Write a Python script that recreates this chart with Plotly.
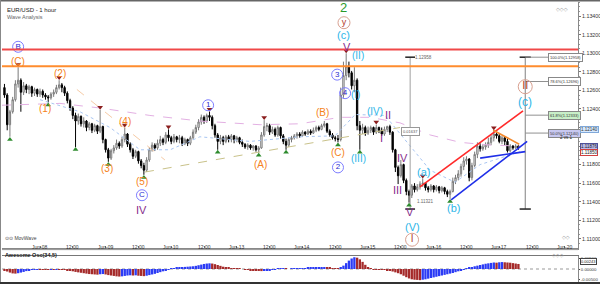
import plotly.graph_objects as go

# ---------------- data ----------------
hours = list(range(-13, 176))          # hourly bars, 0 = Jun-08 00:00
open0 = 1.1263
close = [1.1255, 1.1223, 1.1237, 1.1250, 1.1267, 1.1271, 1.1258, 1.1265, 1.1261, 1.1264, 1.1257, 1.1261, 1.1256,
         1.1259, 1.1255, 1.1253, 1.1252, 1.1256, 1.1258, 1.1263, 1.1266, 1.1263, 1.1257,
         1.1249, 1.1241, 1.1233, 1.1227, 1.1232, 1.1224, 1.1227, 1.1220, 1.1224, 1.1217,
         1.1222, 1.1216, 1.1221, 1.1207, 1.1196, 1.1187, 1.1195, 1.1198, 1.1203, 1.1200,
         1.1207, 1.1213, 1.1202, 1.1196, 1.1189, 1.1194, 1.1184, 1.1179, 1.1174, 1.1185,
         1.1196, 1.1201, 1.1198, 1.1203, 1.1207, 1.1204, 1.1212, 1.1209, 1.1205, 1.1210,
         1.1207, 1.1209, 1.1203, 1.1207, 1.1203, 1.1209, 1.1215, 1.1220, 1.1226, 1.1231,
         1.1227, 1.1233, 1.1231, 1.1222, 1.1212, 1.1205, 1.1209, 1.1205, 1.1210, 1.1207,
         1.1211, 1.1207, 1.1209, 1.1204, 1.1202, 1.1199, 1.1201, 1.1198, 1.1200, 1.1196,
         1.1198, 1.1212, 1.1221, 1.1222, 1.1215, 1.1218, 1.1212, 1.1220, 1.1211, 1.1205,
         1.1201, 1.1207, 1.1209, 1.1211, 1.1213, 1.1211, 1.1215, 1.1213, 1.1216, 1.1214,
         1.1217, 1.1220, 1.1218, 1.1222, 1.1224, 1.1216, 1.1212, 1.1209, 1.1208, 1.1207,
         1.1255, 1.1276, 1.1286, 1.1279, 1.1265, 1.1271, 1.1222, 1.1217, 1.1220, 1.1214,
         1.1217, 1.1220, 1.1215, 1.1220, 1.1217, 1.1213, 1.1218, 1.1221, 1.1215, 1.1196,
         1.1177, 1.1168, 1.1180, 1.1163, 1.1151, 1.1147, 1.1157, 1.1153, 1.1156, 1.1159,
         1.1160, 1.1155, 1.1153, 1.1157, 1.1153, 1.1156, 1.1152, 1.1155, 1.1151, 1.1148,
         1.1151, 1.1162, 1.1166, 1.1170, 1.1178, 1.1184, 1.1186, 1.1166, 1.1179, 1.1191,
         1.1200, 1.1197, 1.1199, 1.1201, 1.1204, 1.1209, 1.1213, 1.1211, 1.1205, 1.1209,
         1.1205, 1.1195, 1.1200, 1.1198, 1.1200, 1.1198]
high = [1.1267, 1.1257, 1.1239, 1.1253, 1.1271, 1.1285, 1.1273, 1.1269, 1.1267, 1.1266, 1.1265, 1.1263, 1.1262,
        1.1262, 1.1261, 1.1257, 1.1255, 1.1258, 1.1261, 1.1266, 1.1271, 1.1268, 1.1265,
        1.1259, 1.1251, 1.1243, 1.1236, 1.1235, 1.1233, 1.1231, 1.1228, 1.1226, 1.1225,
        1.1224, 1.1223, 1.1239, 1.1222, 1.1208, 1.1198, 1.1197, 1.1201, 1.1207, 1.1205,
        1.1210, 1.1220, 1.1214, 1.1204, 1.1198, 1.1196, 1.1195, 1.1186, 1.1182, 1.1188,
        1.1199, 1.1204, 1.1203, 1.1207, 1.1211, 1.1209, 1.1215, 1.1218, 1.1211, 1.1213,
        1.1211, 1.1212, 1.1211, 1.1209, 1.1208, 1.1211, 1.1218, 1.1223, 1.1229, 1.1234,
        1.1233, 1.1235, 1.1237, 1.1233, 1.1224, 1.1214, 1.1212, 1.1211, 1.1212, 1.1212,
        1.1213, 1.1212, 1.1211, 1.1210, 1.1207, 1.1203, 1.1203, 1.1202, 1.1201, 1.1201,
        1.1200, 1.1215, 1.1228, 1.1225, 1.1224, 1.1221, 1.1220, 1.1222, 1.1221, 1.1213,
        1.1208, 1.1209, 1.1211, 1.1213, 1.1215, 1.1215, 1.1217, 1.1216, 1.1218, 1.1218,
        1.1220, 1.1222, 1.1222, 1.1224, 1.1227, 1.1225, 1.1218, 1.1214, 1.1211, 1.1212,
        1.1263, 1.1291, 1.1300, 1.1291, 1.1281, 1.1285, 1.1273, 1.1227, 1.1224, 1.1222,
        1.1221, 1.1222, 1.1221, 1.1223, 1.1221, 1.1220, 1.1221, 1.1222, 1.1223, 1.1216,
        1.1197, 1.1179, 1.1185, 1.1181, 1.1165, 1.1153, 1.1159, 1.1160, 1.1159, 1.1162,
        1.1165, 1.1161, 1.1157, 1.1159, 1.1158, 1.1158, 1.1157, 1.1157, 1.1156, 1.1153,
        1.1153, 1.1166, 1.1169, 1.1174, 1.1181, 1.1188, 1.1189, 1.1187, 1.1182, 1.1194,
        1.1204, 1.1203, 1.1202, 1.1204, 1.1209, 1.1212, 1.1217, 1.1215, 1.1213, 1.1211,
        1.1210, 1.1208, 1.1202, 1.1201, 1.1202, 1.1201]
low = [1.1252, 1.1217, 1.1210, 1.1235, 1.1248, 1.1263, 1.1237, 1.1255, 1.1257, 1.1256, 1.1253, 1.1254, 1.1253,
       1.1253, 1.1252, 1.1250, 1.1247, 1.1250, 1.1253, 1.1256, 1.1261, 1.1258, 1.1254,
       1.1246, 1.1238, 1.1229, 1.1199, 1.1223, 1.1221, 1.1220, 1.1216, 1.1217, 1.1214,
       1.1215, 1.1213, 1.1214, 1.1203, 1.1193, 1.1183, 1.1185, 1.1192, 1.1196, 1.1197,
       1.1198, 1.1204, 1.1199, 1.1193, 1.1186, 1.1187, 1.1181, 1.1176, 1.1169, 1.1172,
       1.1183, 1.1194, 1.1195, 1.1196, 1.1200, 1.1201, 1.1202, 1.1205, 1.1202, 1.1203,
       1.1204, 1.1203, 1.1200, 1.1201, 1.1200, 1.1201, 1.1207, 1.1213, 1.1217, 1.1223,
       1.1224, 1.1225, 1.1227, 1.1218, 1.1209, 1.1196, 1.1202, 1.1201, 1.1203, 1.1204,
       1.1204, 1.1203, 1.1204, 1.1202, 1.1199, 1.1197, 1.1196, 1.1196, 1.1195, 1.1194,
       1.1193, 1.1197, 1.1210, 1.1216, 1.1212, 1.1213, 1.1210, 1.1210, 1.1208, 1.1202,
       1.1196, 1.1199, 1.1204, 1.1207, 1.1208, 1.1209, 1.1210, 1.1211, 1.1212, 1.1212,
       1.1213, 1.1215, 1.1216, 1.1217, 1.1220, 1.1214, 1.1210, 1.1207, 1.1205, 1.1204,
       1.1205, 1.1252, 1.1271, 1.1274, 1.1261, 1.1258, 1.1217, 1.1196, 1.1213, 1.1211,
       1.1212, 1.1214, 1.1212, 1.1213, 1.1214, 1.1211, 1.1211, 1.1215, 1.1212, 1.1193,
       1.1172, 1.1159, 1.1166, 1.1160, 1.1147, 1.1139, 1.1144, 1.1150, 1.1151, 1.1153,
       1.1156, 1.1152, 1.1150, 1.1151, 1.1150, 1.1151, 1.1149, 1.1150, 1.1148, 1.1145,
       1.1143, 1.1150, 1.1159, 1.1163, 1.1167, 1.1174, 1.1180, 1.1162, 1.1163, 1.1177,
       1.1187, 1.1194, 1.1195, 1.1196, 1.1198, 1.1201, 1.1205, 1.1208, 1.1203, 1.1202,
       1.1201, 1.1193, 1.1193, 1.1196, 1.1197, 1.1196]
opens = [open0] + close[:-1]

ao = [-0.0006, -0.0012, -0.0017, -0.0021, -0.0022, -0.0020, -0.0017, -0.0014, -0.0010, -0.0007, -0.0004, -0.0003, -0.0002,
      -0.0002, -0.0002, -0.0003, -0.0003, -0.0002, -0.0002, -0.0001, -0.0001, -0.0002, -0.0003,
      -0.0005, -0.0008, -0.0011, -0.0014, -0.0016, -0.0018, -0.0020, -0.0022, -0.0024, -0.0025,
      -0.0026, -0.0027, -0.0025, -0.0024, -0.0026, -0.0029, -0.0031, -0.0033, -0.0035, -0.0036,
      -0.0035, -0.0033, -0.0031, -0.0030, -0.0031, -0.0030, -0.0032, -0.0033, -0.0034, -0.0032,
      -0.0029, -0.0026, -0.0023, -0.0019, -0.0015, -0.0011, -0.0007, -0.0003, 0.0001, 0.0004,
      0.0006, 0.0008, 0.0009, 0.0010, 0.0011, 0.0012, 0.0013, 0.0015, 0.0018, 0.0021,
      0.0024, 0.0026, 0.0027, 0.0026, 0.0023, 0.0019, 0.0015, 0.0011, 0.0008, 0.0005,
      0.0003, 0.0002, 0.0001, 0.00005, 0.0000, -0.0002, -0.0004, -0.0005, -0.0006, -0.0008,
      -0.0009, -0.0010, -0.0009, -0.0007, -0.0005, -0.0003, -0.0001, 0.0001, 0.0002, 0.00025,
      0.0001, 0.0000, 0.0001, 0.00015, 0.0002, 0.00025, 0.0003, 0.0004, 0.0005, 0.0006,
      0.0007, 0.0008, 0.00085, 0.0009, 0.00095, 0.0008, 0.0006, 0.0004, 0.0002, 0.0001,
      0.0006, 0.0016, 0.0028, 0.0040, 0.0050, 0.0056, 0.0054, 0.0046, 0.0034, 0.0020,
      0.0008, 0.0002, -0.0001, -0.0002, -0.0002, -0.0002, -0.0003, -0.0005, -0.0008, -0.0012,
      -0.0016, -0.0020, -0.0025, -0.0032, -0.0039, -0.0045, -0.0049, -0.0051, -0.0052, -0.0053,
      -0.0051, -0.0049, -0.0046, -0.0043, -0.0040, -0.0037, -0.0034, -0.0031, -0.0028, -0.0025,
      -0.0022, -0.0019, -0.0015, -0.0011, -0.0007, -0.0003, 0.0001, 0.0005, 0.0009, 0.0013,
      0.0016, 0.0019, 0.0022, 0.0025, 0.0027, 0.0029, 0.0031, 0.0030, 0.0032, 0.0033,
      0.0032, 0.0031, 0.0030, 0.0028, 0.0026, 0.0024]

tick_hours = [0, 12, 24, 36, 48, 60, 72, 84, 96, 108, 120, 132, 144, 156, 168, 180, 192]
tick_labels = ["Jun-08", "12:00", "Jun-09", "12:00", "Jun-10", "12:00", "Jun-13", "12:00", "Jun-14",
               "12:00", "Jun-15", "12:00", "Jun-16", "12:00", "Jun-17", "12:00", "Jun-20"]
price_ticks = [1.110, 1.112, 1.114, 1.116, 1.118, 1.120, 1.122, 1.124, 1.126, 1.128, 1.130, 1.132, 1.134]
# 1.12000 and 1.12200 are hidden behind the price boxes in the reference
price_tick_text = ["1.11000", "1.11200", "1.11400", "1.11600", "1.11800", "", "", "1.12400", "1.12600",
                   "1.12800", "1.13000", "1.13200", "1.13400"]

frac_hi = [-8, 7, 22, 31, 47, 62, 82, 112, 123, 140, 166]
frac_lo = [-11, 3, 13, 25, 38, 65, 80, 90, 109, 117, 135, 150]

hlevels = [1.1304, 1.1286]
hlevel_colors = ["#f04848", "#ff8c2e"]

# drawn trend lines (hour, price pairs)
red_ch_h, red_ch_p = [139.0, 176.7], [1.1156, 1.1238]
blue_ch_h, blue_ch_p = [150.4, 178.2], [1.1142, 1.1205]
blue_flat_h, blue_flat_p = [161.0, 177.5], [1.1187, 1.1194]
orange_tl_h, orange_tl_p = [165.8, 175.3], [1.1217, 1.1202]
khaki_h, khaki_p = [38.4, 131.7], [1.1172, 1.1220]
lorange_h, lorange_p = [13.5, 45.7], [1.1261, 1.1185]
ma_pink_h = [-13.9, 7.3, 22.0, 40.2, 58.5, 80.5, 95.1, 109.8, 120.7, 131.7, 142.7, 153.7, 164.7, 175.6]
ma_pink_p = [1.1244, 1.1246, 1.1241, 1.1233, 1.1227, 1.1223, 1.1224, 1.1231, 1.1231, 1.1225, 1.1212, 1.1204, 1.1201, 1.1200]
ma_blue_h = [0, 14.6, 25.6, 36.6, 47.6, 58.5, 76.8, 95.1, 107.9, 115.3, 126.2, 133.6, 142.7, 151.8, 161.0, 175.6]
ma_blue_p = [1.1250, 1.1237, 1.1220, 1.1196, 1.1196, 1.1210, 1.1205, 1.1210, 1.1211, 1.1234, 1.1233, 1.1207, 1.1174, 1.1161, 1.1180, 1.1194]

fib_hi, fib_lo = 1.12958, 1.11321
fib_levels = [1.12958, 1.12696, 1.12333, 1.12140]
fib_texts = ["100.0%(1.12958)", "78.6%(1.12696)", "61.8%(1.12333)", "50.0%(1.12140)"]
fib_fills = ["#ffffff", "#ffffff", "#c8efc8", "#c8c8f0"]
fib_hour = 177.5
measure_hour = 135.4

ORANGE, BLUE, RING, CYAN, PURPLE, GREEN, BROWN, BRING = (
    "#f58220", "#2a2ad0", "#7d7dff", "#2db6e8", "#862d8c", "#2a9a2a", "#b23c2a", "#d8a090")

wave_labels = [  # text, hour, price, color, size
    ("(C)", -8.0, 1.1291, ORANGE, 10), ("(2)", 7.3, 1.1278, ORANGE, 10), ("(1)", 1.8, 1.1241, ORANGE, 10),
    ("(4)", 31.1, 1.1226, ORANGE, 10), ("(3)", 24.5, 1.1176, ORANGE, 10), ("(5)", 37.3, 1.1162, ORANGE, 10),
    ("IV", 37.3, 1.1131, PURPLE, 11), ("(A)", 80.5, 1.1180, ORANGE, 10), ("(B)", 103.5, 1.1236, ORANGE, 10),
    ("(C)", 109.0, 1.1193, ORANGE, 10), ("2", 111.2, 1.1349, GREEN, 13), ("(c)", 111.2, 1.1320, CYAN, 11),
    ("V", 112.3, 1.1307, PURPLE, 11), ("(II)", 116.3, 1.1298, CYAN, 10), ("(I)", 115.3, 1.1256, CYAN, 10),
    ("(III)", 116.6, 1.1187, CYAN, 10), ("(IV)", 122.6, 1.1237, CYAN, 10), ("II", 127.3, 1.1234, PURPLE, 11),
    ("I", 125.1, 1.1209, PURPLE, 11), ("III", 130.6, 1.1153, PURPLE, 11), ("IV", 132.5, 1.1187, PURPLE, 11),
    ("V", 135.4, 1.1129, PURPLE, 11), ("(V)", 136.1, 1.1113, CYAN, 11), ("(a)", 140.1, 1.1172, CYAN, 11),
    ("(b)", 151.1, 1.1133, CYAN, 11), ("(c)", 177.5, 1.1248, CYAN, 12),
]
circled_labels = [  # text, hour, price, text color, ring color, size
    ("B", -8.0, 1.1307, BLUE, RING, 11), ("1", 61.5, 1.1244, BLUE, RING, 11), ("C", 37.3, 1.1147, BLUE, RING, 11),
    ("2", 109.0, 1.1177, BLUE, RING, 11), ("3", 108.7, 1.1277, BLUE, RING, 11), ("4", 111.6, 1.1257, BLUE, RING, 11),
    ("y", 111.2, 1.1333, BROWN, BRING, 12), ("I", 136.1, 1.1099, BROWN, BRING, 13), ("II", 177.5, 1.1264, BROWN, BRING, 14),
]

FONT = "Liberation Sans"
fig = go.Figure()

# faint moving averages / tool lines
for hx, py, col, dash in [(ma_pink_h, ma_pink_p, "#e3b0e3", "dash"), (ma_blue_h, ma_blue_p, "#a9c6f2", "dot"),
                          (khaki_h, khaki_p, "#c9c28a", "dash"), (lorange_h, lorange_p, "#f6cba6", "dash")]:
    fig.add_trace(go.Scatter(x=hx, y=py, mode="lines", line=dict(color=col, width=1, dash=dash), hoverinfo="skip"))

# fib & measuring tool vertical lines
fig.add_trace(go.Scatter(x=[fib_hour, fib_hour], y=[fib_hi, fib_lo], mode="lines+markers",
                         line=dict(color="#808080", width=1),
                         marker=dict(symbol="line-ew", size=8, line=dict(color="#222", width=1.5))))
fig.add_trace(go.Scatter(x=[measure_hour, measure_hour], y=[fib_hi, fib_lo], mode="lines+markers",
                         line=dict(color="#a0a0a0", width=1),
                         marker=dict(symbol="line-ew", size=7, line=dict(color="#222", width=1.5))))
for lv in fib_levels:
    fig.add_trace(go.Scatter(x=[fib_hour, 186.0], y=[lv, lv], mode="lines", line=dict(color="#909090", width=1)))

fig.add_trace(go.Candlestick(
    x=hours, open=opens, high=high, low=low, close=close,
    increasing=dict(fillcolor="#ffffff", line=dict(color="#7a7a7a", width=1)),
    decreasing=dict(fillcolor="#000000", line=dict(color="#000000", width=1)),
    whiskerwidth=0, hoverinfo="skip"))

# channels
for hx, py, col in [(red_ch_h, red_ch_p, "#ff2a2a"), (blue_ch_h, blue_ch_p, "#1f2fe8"),
                    (blue_flat_h, blue_flat_p, "#1f2fe8"), (orange_tl_h, orange_tl_p, "#f28a30")]:
    fig.add_trace(go.Scatter(x=hx, y=py, mode="lines", line=dict(color=col, width=1.6)))

# fractal markers
fig.add_trace(go.Scatter(x=frac_hi, y=[high[h + 13] + 0.00028 for h in frac_hi], mode="markers",
                         marker=dict(symbol="triangle-down", size=5, color="#8b1e1e")))
fig.add_trace(go.Scatter(x=frac_lo, y=[low[h + 13] - 0.00028 for h in frac_lo], mode="markers",
                         marker=dict(symbol="triangle-up", size=5, color="#2e8b2e")))

# circled labels
for t, hx, py, tc, rc, sz in circled_labels:
    fig.add_trace(go.Scatter(x=[hx], y=[py], mode="markers+text", text=[t], textposition="middle center",
                             textfont=dict(family=FONT, size=sz - 3, color=tc),
                             marker=dict(symbol="circle-open", size=sz, color=rc, line=dict(width=1))))

# AO
ao_colors = ["#a52a2a"] + ["#2b3bf5" if ao[i] > ao[i - 1] else "#a52a2a" for i in range(1, len(ao))]
fig.add_trace(go.Bar(x=hours, y=ao, marker=dict(color=ao_colors, line=dict(width=0)),
                     xaxis="x2", yaxis="y2"))

P = lambda px: 1 - px / 284.0
ann = []
for t, hx, py, col, sz in wave_labels:
    ann.append(dict(x=hx, y=py, xref="x", yref="y", text=t, showarrow=False,
                    font=dict(family=FONT, size=sz, color=col)))
# time-axis labels placed just under the main panel
for h, t in zip(tick_hours, tick_labels):
    ann.append(dict(x=h, y=P(251.8), xref="x", yref="paper", text=t, showarrow=False,
                    font=dict(family=FONT, size=5, color="#333")))
for lv, t, fc in zip(fib_levels, fib_texts, fib_fills):
    ann.append(dict(x=186.0, y=lv, xref="x", yref="y", text=t, showarrow=False, xanchor="left",
                    font=dict(family=FONT, size=4, color="#333"), bgcolor=fc, bordercolor="#888",
                    borderwidth=1, borderpad=1))
ann += [
    dict(x=136.6, y=fib_hi, xref="x", yref="y", text="1.12958", xanchor="left", showarrow=False,
         font=dict(family=FONT, size=4.5, color="#666")),
    dict(x=137.2, y=1.1140, xref="x", yref="y", text="1.11321", xanchor="left", showarrow=False,
         font=dict(family=FONT, size=4.5, color="#666")),
    dict(x=measure_hour, y=1.1216, xref="x", yref="y", text="0.01637", showarrow=False,
         font=dict(family=FONT, size=4, color="#555"), bgcolor="white", bordercolor="#999", borderwidth=1, borderpad=1),
]
ann += [
    dict(x=5 / 600, y=P(5), xref="paper", yref="paper", text="EUR/USD - 1 hour", xanchor="left", showarrow=False,
         font=dict(family=FONT, size=6, color="#222")),
    dict(x=5 / 600, y=P(11.5), xref="paper", yref="paper", text="Wave Analysis", xanchor="left", showarrow=False,
         font=dict(family=FONT, size=5.5, color="#666")),
    dict(x=570 / 600, y=P(4), xref="paper", yref="paper", text="◇◇◇", showarrow=False,
         font=dict(family="DejaVu Sans", size=5, color="#999")),
    dict(x=572 / 600, y=P(242), xref="paper", yref="paper", text="◇◇", showarrow=False,
         font=dict(family="DejaVu Sans", size=5, color="#999")),
    dict(x=566 / 600, y=P(260), xref="paper", yref="paper", text="◇◇◇", showarrow=False,
         font=dict(family="DejaVu Sans", size=5, color="#999")),
    dict(x=3 / 600, y=P(243), xref="paper", yref="paper", text="⊙⊙ MovWave", xanchor="left", showarrow=False,
         font=dict(family=FONT, size=5, color="#444")),
    dict(x=3 / 600, y=P(260), xref="paper", yref="paper", text="<b>Awesome Osc(34,5)</b>", xanchor="left",
         showarrow=False, font=dict(family=FONT, size=5.5, color="#222")),
    dict(x=575 / 600, y=P(137), xref="paper", yref="paper", text="2 vs 1", xanchor="right", showarrow=False,
         font=dict(family=FONT, size=4.5, color="#222")),
    dict(x=580 / 600, y=P(129), xref="paper", yref="paper", text="1.12140", xanchor="left", showarrow=False,
         font=dict(family=FONT, size=4.5, color="#333"), bgcolor="#d6e9ff", bordercolor="#80a8d8", borderwidth=1, borderpad=0),
    dict(x=580 / 600, y=P(146), xref="paper", yref="paper", text="1.11876", xanchor="left", showarrow=False,
         font=dict(family=FONT, size=4.5, color="#222"), bgcolor="#b8b8e8", bordercolor="#505098", borderwidth=1, borderpad=0),
    dict(x=580 / 600, y=P(153), xref="paper", yref="paper", text="1.11850", xanchor="left", showarrow=False,
         font=dict(family=FONT, size=4.5, color="#222"), bgcolor="#ffffff", bordercolor="#d04040", borderwidth=1, borderpad=0),
    dict(x=580 / 600, y=P(264.8), xref="paper", yref="paper", text="0.00243", xanchor="left", showarrow=False,
         font=dict(family=FONT, size=4, color="#222"), bgcolor="#ffffff", bordercolor="#444", borderwidth=1, borderpad=0),
]

shapes = []
for lv, col in zip(hlevels, hlevel_colors):
    shapes.append(dict(type="line", xref="x domain", yref="y", x0=0, x1=1, y0=lv, y1=lv,
                       line=dict(color=col, width=2)))
shapes += [
    dict(type="line", xref="x2 domain", yref="y2", x0=0, x1=1, y0=0, y1=0, line=dict(color="#999", width=1, dash="dot"), layer="below"),
    dict(type="line", xref="x domain", yref="paper", x0=0, x1=1, y0=P(249.8), y1=P(249.8), line=dict(color="#bbb", width=0.6)),
    dict(type="line", xref="paper", yref="paper", x0=0, x1=1, y0=P(0.7), y1=P(0.7), line=dict(color="#666", width=1.5)),
    dict(type="line", xref="paper", yref="paper", x0=0.5 / 600, x1=0.5 / 600, y0=0, y1=1, line=dict(color="#888", width=1)),
    dict(type="line", xref="paper", yref="paper", x0=0, x1=1, y0=P(283), y1=P(283), line=dict(color="#333", width=2)),
]

XR = [-13.9, 196.8]
fig.update_layout(
    template="none", width=600, height=284, autosize=False,
    margin=dict(l=0, r=0, t=0, b=0), paper_bgcolor="white", plot_bgcolor="white",
    showlegend=False, bargap=0.15, hovermode=False,
    xaxis=dict(domain=[2 / 600, 578 / 600], range=XR, anchor="y", rangeslider=dict(visible=False),
               tickvals=tick_hours, showticklabels=False, ticks="inside", ticklen=2, tickcolor="#777",
               showline=True, linecolor="#888", linewidth=1.5,
               showgrid=False, zeroline=False, automargin=False),
    yaxis=dict(domain=[1 - 248 / 284, 1 - 2 / 284], range=[1.10901, 1.13553], anchor="x", side="right",
               tickvals=price_ticks, ticktext=price_tick_text, ticks="outside", ticklen=2, tickcolor="#777",
               minor=dict(dtick=0.0005, ticks="outside", ticklen=1, tickcolor="#999"),
               tickfont=dict(family=FONT, size=5.3, color="#333"), showline=True, linecolor="#888",
               showgrid=False, zeroline=False, automargin=False),
    xaxis2=dict(domain=[2 / 600, 578 / 600], range=XR, anchor="y2", matches="x", showticklabels=False,
                ticks="", showline=True, mirror=True, linecolor="#777", showgrid=False, zeroline=False, automargin=False),
    yaxis2=dict(domain=[1 - 282 / 284, 1 - 256 / 284], range=[-0.00619, 0.00619], anchor="x2", side="right",
                tickvals=[-0.005, 0, 0.005], ticktext=["-0.00500", "0.00000", "0.00500"], ticks="outside",
                ticklen=1, tickfont=dict(family=FONT, size=4.3, color="#333"), showline=True, linecolor="#888",
                showgrid=False, zeroline=False, automargin=False),
    annotations=ann, shapes=shapes,
)

fig.write_html("out.html")
